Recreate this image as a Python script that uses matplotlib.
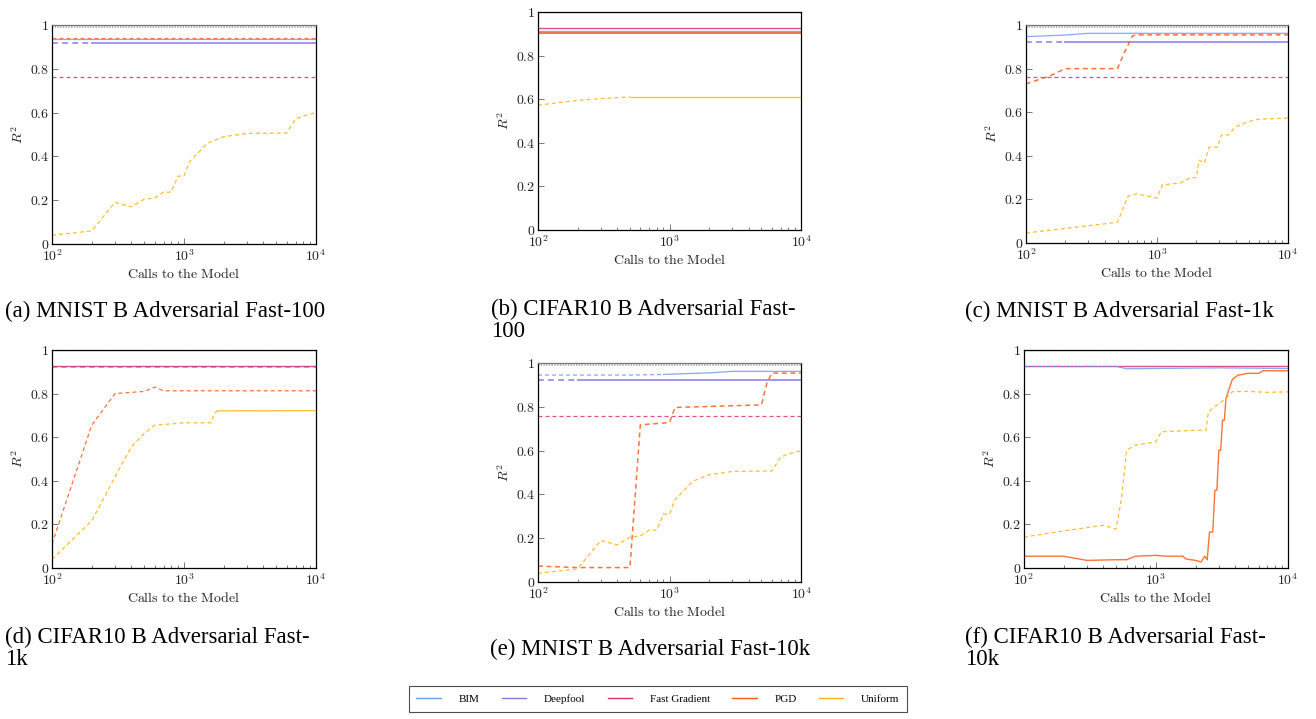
import numpy as np
import matplotlib
matplotlib.use("Agg")
import matplotlib.pyplot as plt
from matplotlib.lines import Line2D
from matplotlib.ticker import FixedLocator, FixedFormatter, LogLocator, NullFormatter

plt.rcParams["mathtext.fontset"] = "cm"
plt.rcParams["font.family"] = ["Liberation Serif", "DejaVu Serif"]

COLORS = {
    "BIM": "#6f9cf0",
    "Deepfool": "#8a78ea",
    "Fast Gradient": "#dd2f72",
    "PGD": "#ff5a14",
    "Uniform": "#ffb20a",
}
LEGEND_ORDER = ["BIM", "Deepfool", "Fast Gradient", "PGD", "Uniform"]

CAPTIONS = [
    "(a) MNIST B Adversarial Fast-100",
    "(b) CIFAR10 B Adversarial Fast-\n100",
    "(c) MNIST B Adversarial Fast-1k",
    "(d) CIFAR10 B Adversarial Fast-\n1k",
    "(e) MNIST B Adversarial Fast-10k",
    "(f) CIFAR10 B Adversarial Fast-\n10k",
]

# ---- (a) MNIST Fast-100 ----
a_bim = 0.938
a_deepfool = 0.918
a_fgsm = 0.761
a_pgd = 0.942
a_unif_x = [100, 200, 300, 400, 500, 600, 700, 800, 900, 1000, 1100, 1500, 2000, 3000, 6000, 7000, 8000, 10000]
a_unif_y = [0.04, 0.06, 0.19, 0.17, 0.205, 0.21, 0.237, 0.237, 0.31, 0.31, 0.375, 0.46, 0.49, 0.505, 0.507, 0.57, 0.585, 0.60]

# ---- (b) CIFAR10 Fast-100 ----
b_bim = 0.915
b_deepfool = 1.0
b_fgsm = 0.928
b_pgd = 0.903
b_unif_x = [100, 200, 300, 500, 10000]
b_unif_y = [0.573, 0.595, 0.603, 0.611, 0.611]

# ---- (c) MNIST Fast-1k ----
c_bim_x = [100, 200, 300, 10000]
c_bim_y = [0.947, 0.954, 0.962, 0.962]
c_deepfool = 0.922
c_fgsm = 0.760
c_pgd_x = [100, 150, 200, 500, 560, 650, 700, 10000]
c_pgd_y = [0.73, 0.765, 0.80, 0.80, 0.87, 0.95, 0.955, 0.955]
c_unif_x = [100, 500, 600, 700, 1000, 1100, 1500, 1800, 2000, 2100, 2300, 2500, 2900, 3100, 3500,
            4000, 5000, 6000, 10000]
c_unif_y = [0.046, 0.095, 0.214, 0.226, 0.206, 0.267, 0.275, 0.30, 0.30, 0.38, 0.366, 0.44, 0.44,
            0.496, 0.496, 0.534, 0.557, 0.568, 0.573]

# ---- (d) CIFAR10 Fast-1k ----
d_bim = 0.922
d_deepfool = 1.0
d_fgsm = 0.928
d_pgd_x = [100, 200, 300, 500, 600, 700, 10000]
d_pgd_y = [0.11, 0.655, 0.80, 0.81, 0.83, 0.813, 0.813]
d_unif_x = [100, 200, 300, 400, 500, 600, 1000, 1600, 1700, 1800, 10000]
d_unif_y = [0.04, 0.216, 0.418, 0.556, 0.617, 0.655, 0.666, 0.666, 0.709, 0.721, 0.722]

# ---- (e) MNIST Fast-10k ----
e_bim_x = [100, 500, 900, 2000, 3000, 10000]
e_bim_y = [0.945, 0.945, 0.948, 0.955, 0.962, 0.962]
e_deepfool = 0.922
e_fgsm = 0.760
e_pgd_x = [100, 200, 500, 600, 1000, 1100, 5000, 5500, 6000, 10000]
e_pgd_y = [0.073, 0.066, 0.066, 0.718, 0.728, 0.797, 0.809, 0.908, 0.954, 0.954]
e_unif_x = [100, 200, 300, 400, 500, 600, 700, 800, 900, 1000, 1100, 1500, 2000, 3000, 6000, 7000, 8000, 10000]
e_unif_y = [0.04, 0.06, 0.19, 0.17, 0.205, 0.21, 0.237, 0.237, 0.31, 0.31, 0.375, 0.46, 0.49, 0.505, 0.507, 0.57, 0.585, 0.60]

# ---- (f) CIFAR10 Fast-10k ----
f_bim_x = [100, 500, 600, 3000, 10000]
f_bim_y = [0.925, 0.925, 0.914, 0.918, 0.915]
f_deepfool = 1.0
f_fgsm = 0.928
f_pgd_x = [100, 200, 300, 500, 600, 700, 1000, 1200, 1600, 1700, 2000, 2200, 2350, 2450, 2550, 2700,
           2800, 2900, 3000, 3100, 3200, 3300, 3400, 3600, 3800, 4200, 5000, 6000, 6500, 10000]
f_pgd_y = [0.054, 0.054, 0.035, 0.038, 0.038, 0.054, 0.058, 0.054, 0.054, 0.041, 0.035, 0.028, 0.054,
           0.038, 0.165, 0.165, 0.357, 0.357, 0.54, 0.54, 0.678, 0.678, 0.778, 0.824, 0.865, 0.885,
           0.893, 0.893, 0.905, 0.905]
f_unif_x = [100, 200, 400, 500, 550, 600, 700, 900, 1000, 1100, 2000, 2400, 2500, 2800, 3400, 3800,
            5000, 7000, 10000]
f_unif_y = [0.142, 0.17, 0.196, 0.179, 0.32, 0.54, 0.564, 0.574, 0.579, 0.625, 0.632, 0.632, 0.717,
            0.74, 0.778, 0.809, 0.81, 0.806, 0.808]

X_RANGE = [100, 10000]

# axes rectangles in figure fraction (left, bottom, width, height)
POSITIONS = [
    (0.0395, 0.6606, 0.2006, 0.3046),
    (0.4088, 0.6800, 0.1999, 0.3032),
    (0.7796, 0.6620, 0.1991, 0.3032),
    (0.0395, 0.2100, 0.2006, 0.3032),
    (0.4088, 0.1905, 0.1999, 0.3046),
    (0.7780, 0.2100, 0.2006, 0.3032),
]
CAPTION_POS = [(5, 301), (491, 299), (965, 301), (5, 627), (490, 639), (965, 627)]

DASH = (3.2, 2.4)


def draw(ax, name, x, y, solid_from=None, lw=0.9):
    """Draw a series dashed up to solid_from and solid afterwards."""
    x = np.asarray(x, dtype=float)
    y = np.asarray(y, dtype=float)
    color = COLORS[name]
    if solid_from is None:
        ax.plot(x, y, color=color, lw=lw, dashes=DASH, alpha=0.85)
        return
    cut = np.searchsorted(x, solid_from)
    if cut > 0:
        ax.plot(x[: cut + 1], y[: cut + 1], color=color, lw=lw, dashes=DASH, alpha=0.85)
    ax.plot(x[cut:], y[cut:], color=color, lw=lw, alpha=0.85)


def flat(ax, name, value, solid_from=None, lw=0.9):
    if solid_from is None or solid_from <= X_RANGE[0]:
        xs = X_RANGE
    else:
        xs = [X_RANGE[0], solid_from, X_RANGE[1]]
    draw(ax, name, xs, [value] * len(xs), solid_from, lw)


def top_line(ax, mnist):
    if mnist:
        ax.plot(X_RANGE, [0.999, 0.999], color="#7a7a7a", lw=1.4, zorder=1)
        ax.plot(X_RANGE, [0.993, 0.993], color="#b0b0b0", lw=1.4, ls=(0, (0.7, 0.7)), zorder=1)
    else:
        ax.plot(X_RANGE, [0.999, 0.999], color="#2c2c6c", lw=1.4, zorder=1)
        ax.plot(X_RANGE, [0.999, 0.999], color="#8a78ea", lw=1.0, ls=(0, (0.6, 0.6)), zorder=2)


def style(ax, mnist):
    ax.set_xscale("log")
    ax.set_xlim(*X_RANGE)
    ax.set_ylim(0, 1)
    ax.xaxis.set_major_locator(FixedLocator([100, 1000, 10000]))
    ax.xaxis.set_major_formatter(FixedFormatter([r"$10^{2}$", r"$10^{3}$", r"$10^{4}$"]))
    ax.xaxis.set_minor_locator(LogLocator(base=10, subs=np.arange(2, 10), numticks=20))
    ax.xaxis.set_minor_formatter(NullFormatter())
    yt = [0, 0.2, 0.4, 0.6, 0.8, 1]
    ax.yaxis.set_major_locator(FixedLocator(yt))
    ax.yaxis.set_major_formatter(FixedFormatter([r"$0$", r"$0.2$", r"$0.4$", r"$0.6$", r"$0.8$", r"$1$"]))
    ax.tick_params(which="both", direction="in", labelsize=10, width=0.5, colors="#444444",
                   labelcolor="#222222")
    ax.tick_params(which="major", length=4, pad=2)
    ax.tick_params(axis="x", which="major", pad=3)
    ax.tick_params(which="minor", length=2.5)
    for s in ax.spines.values():
        s.set_linewidth(0.9)
    if mnist:
        ax.spines["top"].set_color("#777777")
    ax.set_xlabel(r"$\mathrm{Calls\ to\ the\ Model}$", fontsize=10, labelpad=2, color="#222222")
    ax.set_ylabel(r"$R^2$", fontsize=10, labelpad=3, color="#222222")


fig = plt.figure(figsize=(13.16, 7.19), dpi=100)
axes = [fig.add_axes(p) for p in POSITIONS]

# (a)
ax = axes[0]
top_line(ax, True)
flat(ax, "Fast Gradient", a_fgsm)
flat(ax, "PGD", a_pgd)
flat(ax, "BIM", a_bim, solid_from=100)
flat(ax, "Deepfool", a_deepfool, solid_from=200, lw=1.3)
draw(ax, "Uniform", a_unif_x, a_unif_y)

# (b)
ax = axes[1]
flat(ax, "PGD", b_pgd, solid_from=100, lw=1.4)
flat(ax, "BIM", b_bim, solid_from=100, lw=1.0)
flat(ax, "Fast Gradient", b_fgsm, solid_from=100, lw=1.0)
draw(ax, "Uniform", b_unif_x, b_unif_y, solid_from=500)
top_line(ax, False)

# (c)
ax = axes[2]
top_line(ax, True)
flat(ax, "Fast Gradient", c_fgsm)
draw(ax, "BIM", c_bim_x, c_bim_y, solid_from=100)
flat(ax, "Deepfool", c_deepfool, solid_from=200, lw=1.3)
draw(ax, "PGD", c_pgd_x, c_pgd_y, lw=1.1)
draw(ax, "Uniform", c_unif_x, c_unif_y)

# (d)
ax = axes[3]
flat(ax, "BIM", d_bim, lw=1.2)
flat(ax, "Fast Gradient", d_fgsm, solid_from=100, lw=1.0)
draw(ax, "PGD", d_pgd_x, d_pgd_y)
draw(ax, "Uniform", d_unif_x, d_unif_y, solid_from=1800)
top_line(ax, False)

# (e)
ax = axes[4]
top_line(ax, True)
flat(ax, "Fast Gradient", e_fgsm)
draw(ax, "BIM", e_bim_x, e_bim_y, solid_from=900)
flat(ax, "Deepfool", e_deepfool, solid_from=200, lw=1.3)
draw(ax, "PGD", e_pgd_x, e_pgd_y, lw=1.1)
draw(ax, "Uniform", e_unif_x, e_unif_y)

# (f)
ax = axes[5]
flat(ax, "Fast Gradient", f_fgsm, solid_from=100, lw=1.0)
draw(ax, "BIM", f_bim_x, f_bim_y, solid_from=500)
draw(ax, "PGD", f_pgd_x, f_pgd_y, solid_from=100, lw=1.0)
draw(ax, "Uniform", f_unif_x, f_unif_y)
top_line(ax, False)

for i, ax in enumerate(axes):
    style(ax, i in (0, 2, 4))

for (px, py), text in zip(CAPTION_POS, CAPTIONS):
    fig.text(px / 1316, 1 - py / 719, text, fontsize=16.5, ha="left", va="top",
             linespacing=1.08, family=["Liberation Serif", "DejaVu Serif"])

handles = [Line2D([], [], color=COLORS[n], lw=1.0) for n in LEGEND_ORDER]
leg = fig.legend(handles, LEGEND_ORDER, loc="center", bbox_to_anchor=(0.5, 0.0278), ncol=5,
                 fontsize=8, frameon=True, fancybox=False, edgecolor="#222222",
                 handlelength=2.2, columnspacing=2.0, borderpad=0.7, handletextpad=1.6)
leg.get_frame().set_linewidth(0.8)

fig.savefig("out.png", dpi=100)
